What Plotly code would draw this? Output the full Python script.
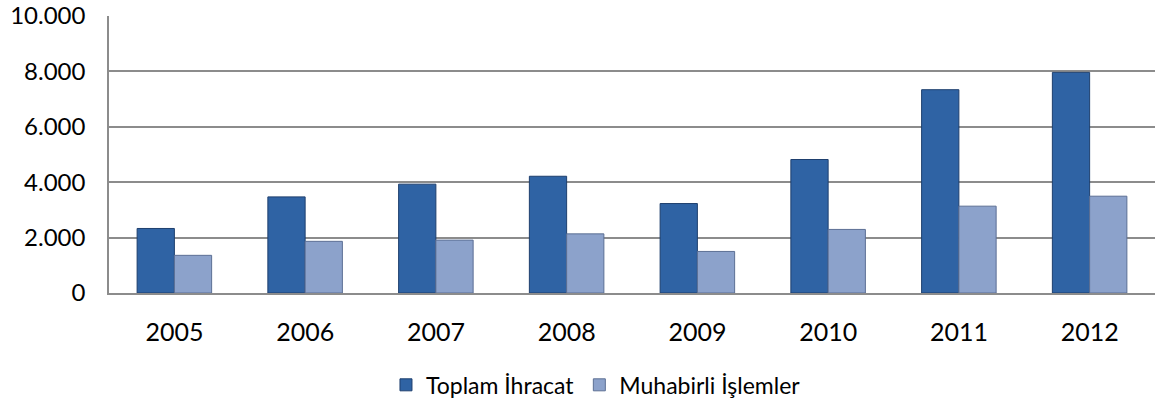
import plotly.graph_objects as go

years = ["2005", "2006", "2007", "2008", "2009", "2010", "2011", "2012"]
toplam_ihracat = [2330, 3470, 3930, 4215, 3230, 4820, 7340, 7965]
muhabirli_islemler = [1360, 1865, 1910, 2135, 1500, 2295, 3135, 3495]
y_ticks = [0, 2000, 4000, 6000, 8000, 10000]

fig = go.Figure()
fig.add_trace(go.Bar(
    x=years, y=toplam_ihracat, name="Toplam İhracat",
    marker=dict(color="#2F63A4", line=dict(color="#1E3F6E", width=1)),
))
fig.add_trace(go.Bar(
    x=years, y=muhabirli_islemler, name="Muhabirli İşlemler",
    marker=dict(color="#8CA2CB", line=dict(color="#5C6F94", width=1)),
))

fig.update_layout(
    width=1155, height=403,
    margin=dict(l=109, r=0, t=16, b=110, autoexpand=False),
    paper_bgcolor="white", plot_bgcolor="white",
    barmode="group", bargap=0.43, bargroupgap=0,
    separators=",.",
    font=dict(family="Lato, Open Sans, sans-serif", size=25, color="#000000"),
    showlegend=True,
    legend=dict(orientation="h", xref="container", yref="container",
                x=0.516, xanchor="center", y=0.045, yanchor="middle",
                font=dict(size=23), traceorder="normal", itemwidth=30),
)
fig.update_yaxes(
    range=[0, 10001], tickvals=y_ticks, tickformat=",d",
    tickfont=dict(size=24),
    showgrid=True, gridcolor="#8C8C8C", gridwidth=1.5,
    showline=True, linecolor="#8C8C8C", linewidth=1.5,
    ticks="outside", ticklen=17, tickcolor="rgba(0,0,0,0)",
    ticklabeloverflow="allow",
    zeroline=False, automargin=False,
)
fig.update_xaxes(
    showline=True, linecolor="#8C8C8C", linewidth=1.5,
    ticks="outside", ticklen=16, tickcolor="rgba(0,0,0,0)",
    showgrid=False, automargin=False,
)

# remove the default 8px page margin so the figure fills the window exactly
fig.write_html("out.html", config={"displayModeBar": False},
               post_script="document.body.style.margin='0';")
